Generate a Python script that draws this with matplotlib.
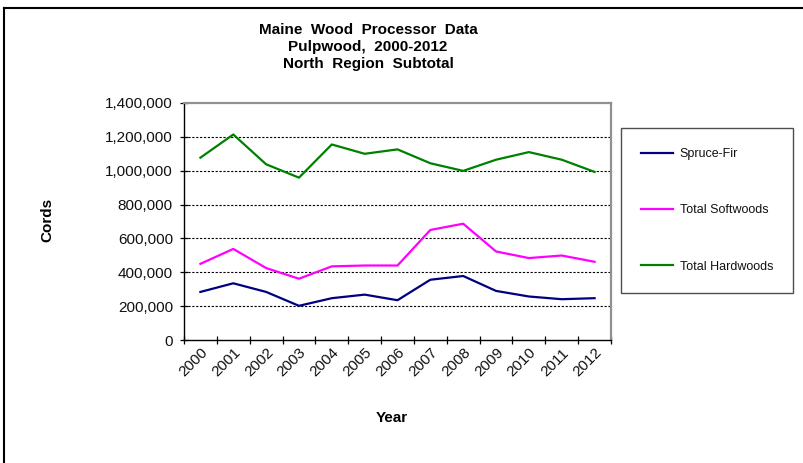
import matplotlib.pyplot as plt
from matplotlib.lines import Line2D
from matplotlib.ticker import FuncFormatter

plt.rcParams['font.family'] = ['Liberation Sans', 'DejaVu Sans']

# data (cords)
years = ['2000', '2001', '2002', '2003', '2004', '2005', '2006',
         '2007', '2008', '2009', '2010', '2011', '2012']
spruce_fir = [284000, 335000, 284000, 202000, 247000, 268000, 235000,
              356000, 378000, 290000, 257000, 241000, 247000]
softwoods = [450000, 538000, 425000, 362000, 435000, 440000, 440000,
             650000, 687000, 523000, 484000, 499000, 462000]
hardwoods = [1077000, 1214000, 1038000, 959000, 1155000, 1100000, 1126000,
             1044000, 999000, 1065000, 1110000, 1065000, 993000]

W, H = 804, 463
fig = plt.figure(figsize=(W / 100, H / 100), dpi=100)

# axes box in pixels: left 184, right 611, top 103, bottom 340
ax = fig.add_axes([184 / W, 1 - 340 / H, (611 - 184) / W, (340 - 103) / H])

x = list(range(len(years)))
ax.plot(x, spruce_fir, color='#000080', lw=1.6, label='Spruce-Fir')
ax.plot(x, softwoods, color='#FF00FF', lw=1.6, label='Total Softwoods')
ax.plot(x, hardwoods, color='#008000', lw=1.6, label='Total Hardwoods')

ax.set_xlim(-0.5, len(years) - 0.5)
ax.set_ylim(0, 1400000)
ax.set_yticks(range(0, 1400001, 200000))
ax.yaxis.set_major_formatter(FuncFormatter(lambda v, p: f'{int(v):,}'))

# gridlines, skipping the top and bottom
for v in range(200000, 1400000, 200000):
    ax.axhline(v, color='black', lw=0.8, ls=(0, (2, 1.5)), zorder=0)

# category axis: ticks between categories, labels at centres
ax.set_xticks([i - 0.5 for i in range(len(years) + 1)])
ax.set_xticklabels([])
ax.set_xticks(x, minor=True)
ax.set_xticklabels(years, minor=True, rotation=45, ha='right',
                   rotation_mode='anchor', fontsize=11, color='#111111')
ax.tick_params(axis='x', which='minor', length=0, pad=4)
ax.tick_params(axis='x', which='major', direction='inout', length=6, width=0.9)
ax.tick_params(axis='y', direction='inout', length=6, width=0.9,
               labelsize=11, labelcolor='#111111', pad=5)

for s in ['left', 'bottom']:
    ax.spines[s].set_color('black')
    ax.spines[s].set_linewidth(1.0)
for s in ['top', 'right']:
    ax.spines[s].set_color('#909090')
    ax.spines[s].set_linewidth(1.6)

fig.text(368 / W, 1 - 47 / H, 'Maine  Wood  Processor  Data\nPulpwood,  2000-2012\nNorth  Region  Subtotal',
         ha='center', va='center', fontsize=11, fontweight='bold', linespacing=1.25)
fig.text(47 / W, 1 - 220 / H, 'Cords', rotation=90, ha='center', va='center',
         fontsize=11, fontweight='bold')
fig.text(392 / W, 1 - 418 / H, 'Year', ha='center', va='center',
         fontsize=11, fontweight='bold')

leg = fig.legend(loc='upper left', bbox_to_anchor=(621 / W, 1 - 128 / H),
                 fontsize=9, frameon=True, fancybox=False, edgecolor='#222222',
                 labelspacing=3.55, handlelength=2.6, handletextpad=0.5,
                 borderpad=1.6, borderaxespad=0)
leg.get_frame().set_linewidth(1.0)
for t in leg.get_texts():
    t.set_color('#111111')

# outer chart border (only top and left visible in the crop)
fig.add_artist(Line2D([4 / W, 1], [1 - 8 / H, 1 - 8 / H], color='black', lw=1.5))
fig.add_artist(Line2D([4 / W, 4 / W], [0, 1 - 8 / H], color='black', lw=1.5))

fig.savefig('out.png', dpi=100)
